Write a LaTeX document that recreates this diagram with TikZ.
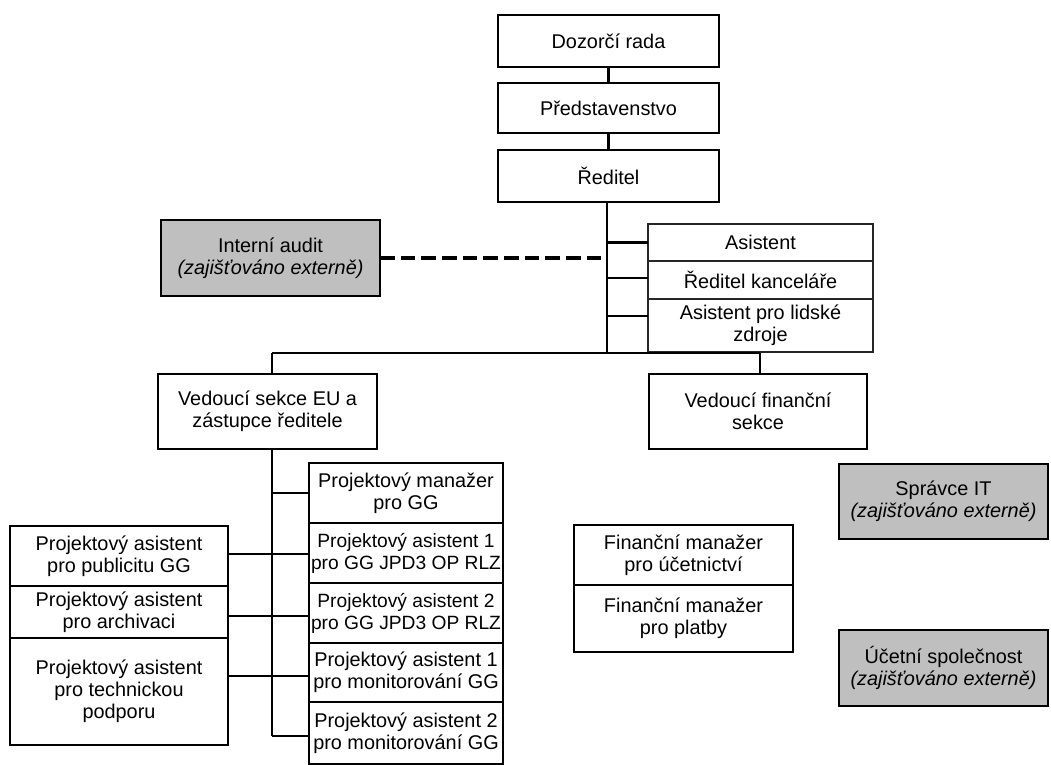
\documentclass[tikz,border=0pt]{standalone}
\usepackage{fontspec}
\setmainfont{Liberation Sans}
\newcommand\bx[7][]{\node[box,#1,minimum width={(#5-#3)*0.75pt},minimum height={(#6-#4)*0.75pt}] (#2) at ({(#3+#5)/2},{(#4+#6)/2}) {#7};}
\begin{document}
\begin{tikzpicture}[x=0.75pt,y=-0.75pt,
  box/.style={draw=black,line width=1.9pt,fill=white,inner sep=0pt,outer sep=0pt,align=center,
    font=\fontsize{14.9}{16.4}\selectfont},
  narrow/.style={font=\fontsize{14.4}{16.4}\selectfont},
  thinbox/.style={line width=1.1pt,draw=black!85},
  ext/.style={fill=black!25},
  conn/.style={line width=1.6pt},
  dashconn/.style={line width=2.6pt,dash pattern=on 11pt off 4.5pt}]
\useasboundingbox (0,0) rectangle (1051,765);
\clip (0,0) rectangle (1051,765);
% top chain
\bx{dozorci}{498}{15}{719}{67}{Dozorčí rada}
\bx{predst}{498}{83}{719}{133}{Představenstvo}
\bx{reditel}{498}{150}{719}{202}{Ředitel}
% staff
\bx[ext]{audit}{161}{220}{380}{296}{Interní audit\\\textit{(zajišťováno externě)}}
\bx[thinbox]{asist}{648}{224}{873}{261}{Asistent}
\bx[thinbox]{redkanc}{648}{261}{873}{299}{Ředitel kanceláře}
\bx[thinbox]{asistlz}{648}{299}{873}{352}{Asistent pro lidské\\zdroje}
% sections
\bx{vedeu}{158}{374}{377}{449}{Vedoucí sekce EU a\\zástupce ředitele}
\bx{vedfin}{649}{374}{867}{449}{Vedoucí finanční\\sekce}
% EU right column
\bx{pman}{309}{463}{503}{523}{Projektový manažer\\pro GG}
\bx[narrow]{paa}{309}{523}{503}{583}{Projektový asistent 1\\pro GG JPD3 OP RLZ}
\bx[narrow]{pab}{309}{583}{503}{643}{Projektový asistent 2\\pro GG JPD3 OP RLZ}
\bx{pma}{309}{643}{503}{702}{Projektový asistent 1\\pro monitorování GG}
\bx{pmb}{309}{702}{503}{764}{Projektový asistent 2\\pro monitorování GG}
% EU left column
\bx{ppub}{10}{526}{228}{586}{Projektový asistent\\pro publicitu GG}
\bx{parch}{10}{586}{228}{638}{Projektový asistent\\pro archivaci}
\bx{ptech}{10}{638}{228}{745}{Projektový asistent\\pro technickou\\podporu}
% finance
\bx{fua}{574}{525}{793}{585}{Finanční manažer\\pro účetnictví}
\bx{fpl}{574}{585}{793}{652}{Finanční manažer\\pro platby}
% external
\bx[ext]{it}{839}{464}{1048}{539}{Správce IT\\\textit{(zajišťováno externě)}}
\bx[ext]{ucet}{839}{630}{1048}{706}{Účetní společnost\\\textit{(zajišťováno externě)}}
% coordinates
\coordinate (j1) at (607,353);
\coordinate (jl) at (272,353);
\coordinate (jr) at (760,353);
\coordinate (eutop) at (272,449);
\coordinate (eubot) at (272,736);
\coordinate (dashend) at (602,258);
% connectors
\draw[conn] (dozorci) -- (predst);
\draw[conn] (predst) -- (reditel);
\draw[conn] (reditel.south -| j1) -- (j1);
\draw[conn] (jl) -- (jr);
\draw[conn] (jl) -- (vedeu.north -| jl);
\draw[conn] (jr) -- (vedfin.north -| jr);
\draw[conn] (asist.west) -- (asist.west -| j1);
\draw[conn] (redkanc.west |- 0,278) -- (j1 |- 0,278);
\draw[conn] (asistlz.west |- 0,316) -- (j1 |- 0,316);
\draw[dashconn] (audit.east) -- (dashend);
\draw[conn] (eutop) -- (eubot);
\draw[conn] (pman.west) -- (pman.west -| eutop);
\draw[conn] (paa.west |- 0,554) -- (eutop |- 0,554);
\draw[conn] (pab.west |- 0,616) -- (eutop |- 0,616);
\draw[conn] (pma.west |- 0,676) -- (eutop |- 0,676);
\draw[conn] (pmb.west |- eubot) -- (eubot);
\draw[conn] (ppub.east |- 0,554) -- (eutop |- 0,554);
\draw[conn] (parch.east |- 0,616) -- (eutop |- 0,616);
\draw[conn] (ptech.east |- 0,676) -- (eutop |- 0,676);
\end{tikzpicture}
\end{document}
